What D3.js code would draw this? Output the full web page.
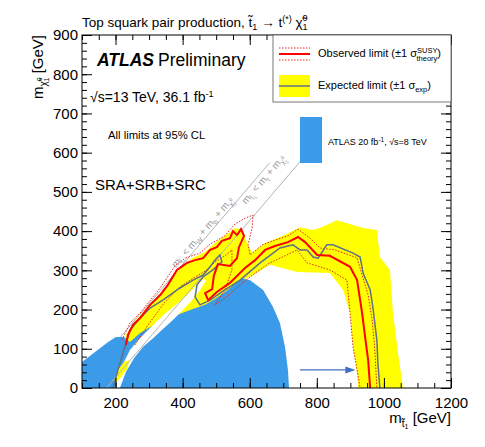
<!DOCTYPE html>
<html>
<head>
<meta charset="utf-8">
<script src="https://cdnjs.cloudflare.com/ajax/libs/d3/7.8.5/d3.min.js"></script>
<style>
  body { margin: 0; background: #fff; }
  svg text { font-family: "Liberation Sans", Arial, Helvetica, sans-serif; fill: #000; }
</style>
</head>
<body>
<svg id="chart"></svg>
<script>
// all points are [m_stop, m_neutralino] in GeV

// 8 TeV 20 fb-1 excluded region (blue)
const run1Region = [
  [100, 0], [100, 66], [139, 92], [178, 117], [201, 130], [225, 130], [243, 117],
  [273, 140], [309, 158], [347, 173], [383, 186], [422, 199], [467, 212], [496, 227],
  [526, 245], [556, 265], [577, 280], [601, 275], [640, 250], [669, 207], [690, 166],
  [705, 105], [714, 46], [717, 0]
];

// white gap along the m_stop = m_top + m_chi line
const run1Gap = [
  [198, 0], [213, 0], [231, 41], [255, 76], [282, 105], [312, 127], [338, 148],
  [368, 171], [398, 196], [428, 224], [452, 250], [470, 275], [461, 278], [440, 260],
  [410, 235], [380, 212], [347, 189], [318, 166], [291, 143], [267, 122], [243, 97],
  [225, 66], [210, 31]
];

// expected +-1 sigma band (yellow), outer edge then inner edge
const expectedBand = [
  [219, 92], [231, 135], [255, 168], [288, 199], [327, 235], [362, 270], [392, 306],
  [428, 331], [467, 347], [496, 370], [526, 388], [556, 408], [580, 403], [592, 370],
  [607, 345], [646, 370], [699, 388], [750, 410], [789, 403], [809, 408], [860, 428],
  [878, 423], [938, 408], [979, 403], [988, 334], [1018, 301], [1027, 191], [1042, 89],
  [1054, 20], [1057, 0],
  [923, 0], [920, 38], [908, 105], [899, 191], [878, 250], [839, 293], [741, 296],
  [660, 314], [607, 286], [577, 275], [541, 250], [482, 212], [422, 191], [347, 161],
  [273, 122], [231, 71], [213, 46]
];

// small piece of the band near the bottom
const expectedBandLow = [
  [195, 20], [207, 46], [225, 66], [240, 71], [237, 51], [219, 31], [204, 15]
];

const observedLimit = [
  [231, 110], [237, 135], [252, 161], [273, 178], [303, 212], [333, 237], [356, 263],
  [383, 301], [413, 319], [437, 326], [461, 331], [482, 352], [502, 359], [517, 375],
  [541, 382], [550, 400], [562, 390], [574, 405], [583, 388], [568, 359], [562, 331],
  [541, 311], [505, 316], [493, 286], [488, 252], [467, 242], [476, 224], [502, 245],
  [541, 268], [586, 306], [616, 326], [646, 352], [675, 362], [714, 372], [744, 385],
  [765, 372], [801, 339], [839, 337], [899, 309], [920, 275], [935, 191], [944, 130],
  [953, 71], [959, 0]
];

const observedUp = [
  [219, 122], [243, 166], [273, 191], [333, 255], [377, 311], [407, 331], [452, 344],
  [482, 367], [526, 388], [556, 418], [586, 433], [610, 441], [607, 408], [595, 365],
  [601, 339], [637, 365], [675, 377], [714, 388], [744, 405], [780, 382], [809, 357],
  [854, 352], [920, 332], [935, 288], [953, 237], [965, 173], [973, 97], [979, 0]
];

const observedDown = [
  [258, 110], [303, 168], [347, 219], [392, 258], [437, 283], [467, 298], [496, 321],
  [526, 337], [547, 352], [547, 301], [526, 250], [496, 212], [526, 229], [571, 263],
  [616, 293], [660, 319], [705, 337], [741, 352], [771, 319], [839, 301], [890, 275],
  [899, 191], [908, 105], [920, 46], [929, 0]
];

const expectedLimit = [
  [192, 0], [207, 46], [225, 97], [243, 148], [273, 178], [303, 204], [341, 224],
  [392, 255], [431, 275], [461, 288], [482, 309], [496, 326], [511, 339], [517, 321],
  [490, 301], [461, 283], [443, 263], [437, 232], [452, 212], [482, 224], [517, 245],
  [571, 275], [631, 319], [690, 357], [729, 365], [750, 352], [771, 352], [789, 334],
  [804, 331], [830, 365], [848, 365], [908, 344], [929, 334], [938, 293], [959, 250],
  [967, 207], [979, 122], [982, 64], [988, 0]
];

// kinematic limits: m_chi = m_stop - offset
const kinOffsets = [85, 173];
const kinFrom = [215, 173];
const kinTo = [660, 750];

const xTickLabels = [200, 400, 600, 800, 1000, 1200];
const yTickLabels = [0, 100, 200, 300, 400, 500, 600, 700, 800, 900];

const arrowFrom = [750, 46];
const arrowTo = [915, 46];

// ---------------------------------------------------------------
const W = 485, H = 447;
const svg = d3.select('#chart').attr('width', W).attr('height', H);
svg.append('rect').attr('width', W).attr('height', H).attr('fill', '#fff');

const x = d3.scaleLinear().domain([100, 1200]).range([82, 451]);
const y = d3.scaleLinear().domain([0, 900]).range([388, 35]);

const plot = svg.append('g');
plot.append('clipPath').attr('id', 'clip')
  .append('rect').attr('x', 82).attr('y', 35).attr('width', 369).attr('height', 353);
const area = plot.append('g').attr('clip-path', 'url(#clip)');

const line = d3.line().x(d => x(d[0])).y(d => y(d[1]));

area.append('path').attr('d', line(expectedBand) + 'Z').attr('fill', '#ffff00');
area.append('path').attr('d', line(run1Region) + 'Z').attr('fill', '#3b9be8');
area.append('path').attr('d', line(run1Gap) + 'Z').attr('fill', '#fff');
area.append('path').attr('d', line(expectedBandLow) + 'Z').attr('fill', '#ffff00');

// kinematic lines
kinOffsets.forEach((off, i) => {
  area.append('line')
    .attr('x1', x(kinFrom[i])).attr('y1', y(kinFrom[i] - off))
    .attr('x2', x(kinTo[i])).attr('y2', y(kinTo[i] - off))
    .attr('stroke', '#b4b4b4').attr('stroke-width', 1);
});

area.append('path').attr('d', line(observedUp)).attr('fill', 'none')
  .attr('stroke', '#e8201c').attr('stroke-width', 1).attr('stroke-dasharray', '1.5,1.5');
area.append('path').attr('d', line(observedDown)).attr('fill', 'none')
  .attr('stroke', '#e8201c').attr('stroke-width', 1).attr('stroke-dasharray', '1.5,1.5');
area.append('path').attr('d', line(expectedLimit)).attr('fill', 'none')
  .attr('stroke', '#5f6f8c').attr('stroke-width', 1.5);
area.append('path').attr('d', line(observedLimit)).attr('fill', 'none')
  .attr('stroke', '#ff0000').attr('stroke-width', 2);

// arrow
const ax1 = x(arrowFrom[0]), ax2 = x(arrowTo[0]), ay = y(arrowFrom[1]);
plot.append('line').attr('x1', ax1).attr('x2', ax2 - 7).attr('y1', ay).attr('y2', ay)
  .attr('stroke', '#3f6fc6').attr('stroke-width', 1.3);
plot.append('path')
  .attr('d', `M${ax2},${ay}L${ax2 - 10},${ay - 3.5}L${ax2 - 10},${ay + 3.5}Z`)
  .attr('fill', '#3f6fc6');

// rich text helper: parts = [text, size, dy, dx]
function rich(g, parts) {
  parts.forEach(p => {
    const t = g.append('tspan').text(p[0]).attr('font-size', p[1]);
    if (p[2]) t.attr('dy', p[2]);
    if (p[3]) t.attr('dx', p[3]);
  });
  return g;
}

// labels along the kinematic lines
const ang = Math.atan2(y(100) - y(0), x(200) - x(100)) * 180 / Math.PI;
const kinLabelPos = [[380, 305], [589, 467]];
const kinLabels = [
  [['m', 10], ['t\u0303', 7, 2.5], ['1', 5, 1.5], [' < m', 10, -4], ['W', 7, 2.5], [' + m', 10, -2.5],
   ['b', 7, 2.5], [' + m', 10, -2.5], ['\u03c7\u0303', 7, 2.5], ['0', 5, -4], ['1', 5, 6, -3]],
  [['m', 10], ['t\u0303', 7, 2.5], ['1', 5, 1.5], [' < m', 10, -4], ['t', 7, 2.5], [' + m', 10, -2.5],
   ['\u03c7\u0303', 7, 2.5], ['0', 5, -4], ['1', 5, 6, -3]]
];
kinLabels.forEach((parts, i) => {
  const g = plot.append('text')
    .attr('transform', `translate(${x(kinLabelPos[i][0])},${y(kinLabelPos[i][1])}) rotate(${ang})`)
    .style('fill', '#9a9a9a');
  rich(g, parts);
});

// axes (ticks inside, ROOT style)
function styleAxis(g) {
  g.select('.domain').remove();
  g.selectAll('line').attr('stroke', '#000').attr('stroke-width', 1);
  g.selectAll('text').attr('font-size', 15).style('font-family', '"Liberation Sans", Arial, sans-serif');
}
const xMinor = d3.range(100, 1201, 50);
const yMinor = d3.range(0, 901, 20);

svg.append('g').attr('transform', 'translate(0,388)')
  .call(d3.axisBottom(x).tickValues(xMinor).tickSize(-5).tickFormat('')).call(styleAxis);
svg.append('g').attr('transform', 'translate(0,388)')
  .call(d3.axisBottom(x).tickValues(xTickLabels).tickSize(-10).tickPadding(9).tickFormat(d3.format('d')))
  .call(styleAxis);
svg.append('g').attr('transform', 'translate(0,35)')
  .call(d3.axisTop(x).tickValues(xMinor).tickSize(-5).tickFormat('')).call(styleAxis);
svg.append('g').attr('transform', 'translate(0,35)')
  .call(d3.axisTop(x).tickValues(xTickLabels).tickSize(-10).tickFormat('')).call(styleAxis);

svg.append('g').attr('transform', 'translate(82,0)')
  .call(d3.axisLeft(y).tickValues(yMinor).tickSize(-5).tickFormat('')).call(styleAxis);
svg.append('g').attr('transform', 'translate(82,0)')
  .call(d3.axisLeft(y).tickValues(yTickLabels).tickSize(-10).tickPadding(4)).call(styleAxis);
svg.append('g').attr('transform', 'translate(451,0)')
  .call(d3.axisRight(y).tickValues(yMinor).tickSize(-5).tickFormat('')).call(styleAxis);
svg.append('g').attr('transform', 'translate(451,0)')
  .call(d3.axisRight(y).tickValues(yTickLabels).tickSize(-10).tickFormat('')).call(styleAxis);

svg.append('rect').attr('x', 82).attr('y', 35).attr('width', 369).attr('height', 353)
  .attr('fill', 'none').attr('stroke', '#000').attr('stroke-width', 1);

// axis titles
rich(svg.append('text').attr('x', 451).attr('y', 423).attr('text-anchor', 'end'),
  [['m', 15], ['t\u0303', 10, 4], ['1', 7, 2], [' [GeV]', 15, -6]]);
rich(svg.append('text').attr('transform', 'translate(43,35) rotate(-90)').attr('text-anchor', 'end'),
  [['m', 15], ['\u03c7\u0303', 10, 4], ['0', 7, -5], ['1', 7, 7, -4], [' [GeV]', 15, -6]]);

// title
rich(svg.append('text').attr('x', 82).attr('y', 27),
  [['Top squark pair production, t\u0303', 13.5], ['1', 9, 3], [' \u2192 t', 13.5, -3],
   ['(*)', 9, -5], [' \u03c7\u0303', 13.5, 5], ['0', 9, -6], ['1', 9, 9, -5]]);

// ATLAS label
svg.append('text').attr('x', 97).attr('y', 66).attr('font-size', 17.5)
  .attr('font-weight', 'bold').attr('font-style', 'italic').text('ATLAS');
svg.append('text').attr('x', 158).attr('y', 66).attr('font-size', 17.5).text('Preliminary');
rich(svg.append('text').attr('x', 90).attr('y', 102),
  [['\u221as=13 TeV, 36.1 fb', 14], ['-1', 9, -5]]);
svg.append('text').attr('x', 108).attr('y', 139).attr('font-size', 11.3).text('All limits at 95% CL');
svg.append('text').attr('x', 95).attr('y', 190).attr('font-size', 15).text('SRA+SRB+SRC');

// legend
const leg = svg.append('g');
leg.append('rect').attr('x', 273).attr('y', 35).attr('width', 178).attr('height', 67)
  .attr('fill', '#fff').attr('stroke', '#555').attr('stroke-width', 0.8);
leg.append('line').attr('x1', 279).attr('x2', 310).attr('y1', 54).attr('y2', 54)
  .attr('stroke', '#ff0000').attr('stroke-width', 2);
[48, 60].forEach(yy => leg.append('line').attr('x1', 279).attr('x2', 310).attr('y1', yy).attr('y2', yy)
  .attr('stroke', '#e8201c').attr('stroke-width', 1).attr('stroke-dasharray', '1.5,1.5'));
rich(leg.append('text').attr('x', 318).attr('y', 57),
  [['Observed limit (\u00b11 \u03c3', 11], ['SUSY', 7.5, -4], ['theory', 7.5, 8, -21], [')', 11, -4]]);
leg.append('rect').attr('x', 279).attr('y', 75).attr('width', 31).attr('height', 22).attr('fill', '#ffff00');
leg.append('line').attr('x1', 279).attr('x2', 310).attr('y1', 86).attr('y2', 86)
  .attr('stroke', '#5f6f8c').attr('stroke-width', 1.5);
rich(leg.append('text').attr('x', 318).attr('y', 89),
  [['Expected limit (\u00b11 \u03c3', 11], ['exp', 7.5, 3], [')', 11, -3]]);

// 8 TeV legend
svg.append('rect').attr('x', 300).attr('y', 117).attr('width', 22).attr('height', 46).attr('fill', '#3b9be8');
rich(svg.append('text').attr('x', 328).attr('y', 145),
  [['ATLAS 20 fb', 9], ['-1', 6.5, -3.5], [', \u221as=8 TeV', 9, 3.5]]);
</script>
</body>
</html>
